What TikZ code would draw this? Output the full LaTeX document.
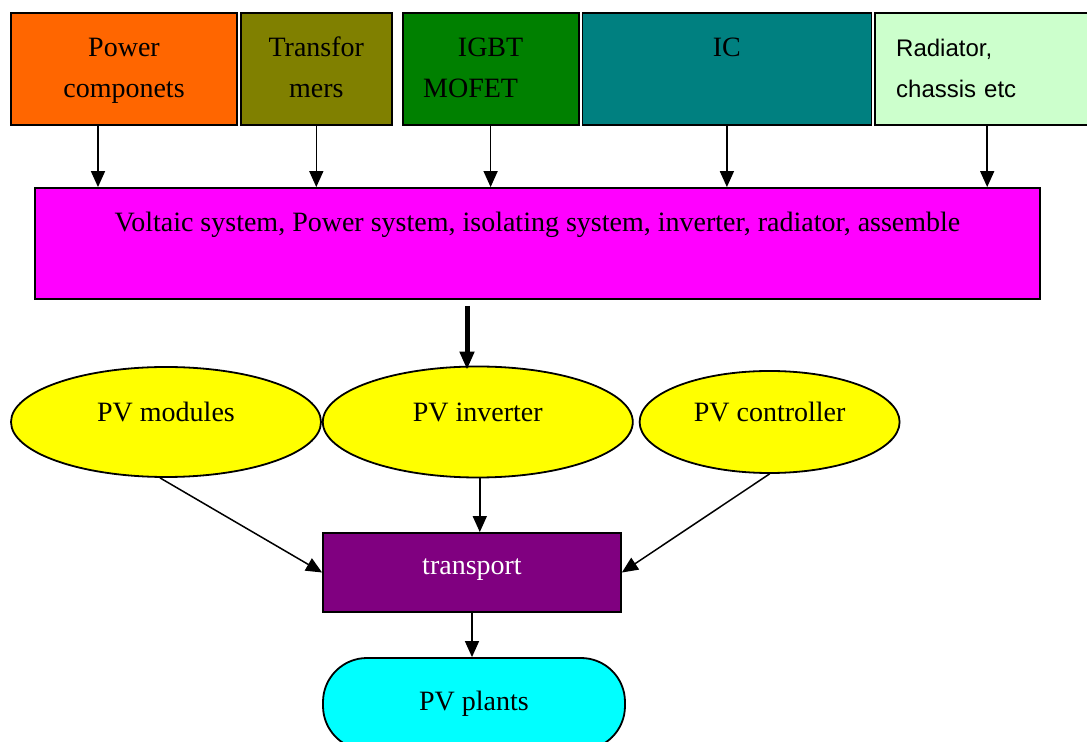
\documentclass[tikz,border=0pt]{standalone}
\usepackage{fontspec}
\setmainfont{Liberation Serif}
\setsansfont{Liberation Sans}
\usepackage{tikz}
\usetikzlibrary{positioning,arrows.meta,shapes.geometric}

\definecolor{pcorange}{HTML}{FF6600}
\definecolor{trolive}{HTML}{808000}
\definecolor{igbtgreen}{HTML}{008000}
\definecolor{icteal}{HTML}{008080}
\definecolor{radmint}{HTML}{CCFFCC}
\definecolor{sysmagenta}{HTML}{FF00FF}
\definecolor{pvyellow}{HTML}{FFFF00}
\definecolor{trapurple}{HTML}{800080}
\definecolor{plcyan}{HTML}{00FFFF}

\begin{document}
\begin{tikzpicture}[x=0.5pt,y=0.5pt,
    box/.style={draw,line width=0.9pt,minimum height=56pt,align=center,font=\fontsize{14}{20.5}\selectfont},
    oval/.style={ellipse,draw,fill=pvyellow,line width=0.9pt,font=\fontsize{14}{17}\selectfont,text height=9pt,text depth=9pt},
    arr/.style={-{Triangle[length=8pt,width=7pt]},line width=0.75pt}]
              \useasboundingbox (0,0) rectangle (1087,-742);

              % parts
              \node[box,fill=pcorange,minimum width=113pt] (pc) at (124,-69) {Power\strut\\componets\strut};
              \node[box,fill=trolive,minimum width=75.5pt,right=1pt of pc] (tr) {Transfor\strut\\mers\strut};
              \node[box,fill=igbtgreen,minimum width=88pt,right=4.5pt of tr] (igbt) {IGBT\strut\\\hspace*{-20pt}MOFET\strut};
              \node[box,fill=icteal,minimum width=144.5pt,right=1pt of igbt] (ic) {IC\strut\\\strut};
              \node[box,fill=radmint,align=left,text width=95pt,inner xsep=10.5pt,font=\sffamily\fontsize{12}{20.5}\selectfont,right=1pt of ic] (rad) {Radiator,\strut\\chassis etc\strut};

              \node[box,fill=sysmagenta,minimum width=502.5pt,minimum height=55.5pt] (sys) at (537.5,-243.5) {Voltaic system, Power system, isolating system, inverter, radiator, assemble\strut\\\strut};

              \node[oval,minimum width=155pt,minimum height=55pt] (mod) at (166,-422) {PV modules};
              \node[oval,minimum width=155pt,minimum height=55.5pt,right=0pt of mod] (inv) {PV inverter};
              \node[oval,minimum width=130pt,minimum height=51pt,right=2.5pt of inv] (ctl) {PV controller};

              \node[box,fill=trapurple,text=white,minimum width=149pt,minimum height=39.5pt,text depth=5.6pt] (tra) at (472,-572.5) {transport};
              \node[draw,fill=plcyan,line width=0.9pt,rounded corners=22pt,minimum width=151pt,minimum height=46pt,font=\fontsize{14}{17}\selectfont] (pl) at (474,-704) {PV plants};

              %parts>sys
              \draw[arr] ([xshift=-13pt]pc.south) -- ([xshift=-13pt]pc.south |- sys.north);
              \draw[arr] (tr.south) -- (tr.south |- sys.north);
              \draw[arr] (igbt.south) -- (igbt.south |- sys.north);
              \draw[arr] (ic.south) -- (ic.south |- sys.north);
              \draw[arr] ([xshift=-2pt]rad.south) -- ([xshift=-2pt]rad.south |- sys.north);

              %sys>inv
              \draw[-{Triangle[length=9pt,width=7pt]},line width=2.5pt,shorten <=3pt,shorten >=-2pt] ([xshift=-35.25pt]sys.south) -- ([xshift=-35.25pt]sys.south |- inv.north);

              %pv>tra
              \draw[arr] ([xshift=-3pt]mod.south) -- (tra.west);
              \draw[arr] ([xshift=1pt]inv.south) -- ([xshift=1pt]inv.south |- tra.north);
              \draw[arr] (ctl.south) -- (tra.east);

              %tra>pl
              \draw[arr] (tra.south) -- (tra.south |- pl.north);
            \end{tikzpicture}
\end{document}
